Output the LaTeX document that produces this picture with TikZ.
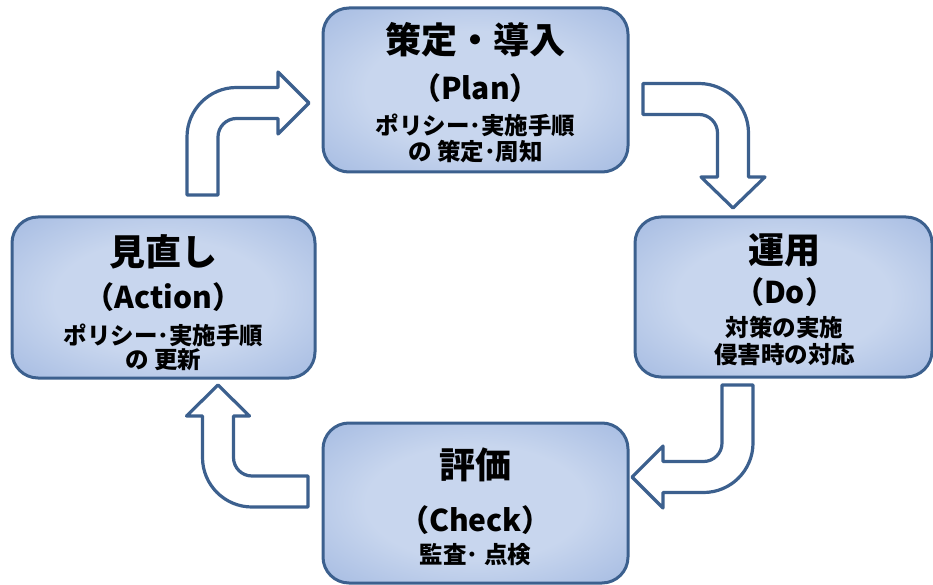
\documentclass[tikz,border=0pt]{standalone}
\usepackage{fontspec}
\newfontfamily\jp{Noto Sans CJK JP}
\definecolor{boxin}{RGB}{200,214,238}
\definecolor{boxout}{RGB}{138,166,216}
\definecolor{edge}{RGB}{60,96,142}
\pgfdeclareradialshading{boxshade}{\pgfpoint{0bp}{0bp}}{color(0bp)=(boxin); color(18bp)=(boxin); color(50bp)=(boxout); color(72bp)=(boxout)}
\tikzset{
  phase/.style={draw=edge, line width=3pt, rounded corners=26pt, shading=boxshade, inner sep=0pt},
  ttl/.style={font=\jp\bfseries\fontsize{36}{40}\selectfont, inner sep=0pt},
  eng/.style={font=\jp\bfseries\fontsize{30}{34}\selectfont, inner sep=0pt},
  subt/.style={font=\jp\bfseries\fontsize{23.5}{26}\selectfont, inner sep=0pt},
  flow/.style={draw=edge, line width=3.2pt, fill=white, line join=round}
}
\begin{document}
\begin{tikzpicture}[x=1pt,y=1pt]
\useasboundingbox (0,0) rectangle (933,-585);

% arrows
\draw[flow] (187,-195) -- (187,-137) arc[start angle=180, end angle=90, radius=49.5]
  -- (278,-87.5) -- (278,-72) -- (309,-103) -- (278,-134) -- (278,-118.5)
  -- (236.5,-118.5) arc[start angle=90, end angle=180, radius=18.5] -- (218,-195) -- cycle;
\draw[flow] (643,-83.5) -- (699,-83.5) arc[start angle=90, end angle=0, radius=49.5]
  -- (748.5,-177) -- (765,-177) -- (733,-208) -- (701,-177) -- (717.5,-177)
  -- (717.5,-133) arc[start angle=0, end angle=90, radius=18.5] -- (643,-114.5) -- cycle;
\draw[flow] (722,-385) -- (753,-385) -- (753,-443) arc[start angle=0, end angle=-90, radius=49.5]
  -- (663,-492.5) -- (663,-508) -- (632,-477) -- (663,-446) -- (663,-461.5)
  -- (703.5,-461.5) arc[start angle=-90, end angle=0, radius=18.5] -- cycle;
\draw[flow] (308,-476) -- (308,-507) -- (252,-507) arc[start angle=270, end angle=180, radius=49.5]
  -- (202.5,-416) -- (186.5,-416) -- (218,-385) -- (249.5,-416) -- (233.5,-416)
  -- (233.5,-457.5) arc[start angle=180, end angle=270, radius=18.5] -- cycle;

% boxes
\node[phase, minimum width=305pt, minimum height=164pt] (plan) at (475.5,-90) {};
\node[phase, minimum width=297pt, minimum height=160pt] (do) at (783.5,-297) {};
\node[phase, minimum width=303pt, minimum height=161pt] (act) at (163.5,-297.5) {};
\node[phase, minimum width=305pt, minimum height=160pt] (chk) at (475.5,-503) {};

% texts
\node[ttl] (planT) at (475.5,-40) {策定・導入};
\node[eng] (planE) at (475.5,-88) {（Plan）};
\node[subt] (planS1) at (475.5,-125) {ポリシー･実施手順};
\node[subt] (planS2) at (475.5,-152) {の 策定･周知};

\node[ttl] (doT) at (784.5,-250) {運用};
\node[eng] (doE) at (784.5,-292) {（Do）};
\node[subt] (doS1) at (784.5,-327) {対策の実施};
\node[subt] (doS2) at (784.5,-355) {侵害時の対応};

\node[ttl] (actT) at (163.5,-252) {見直し};
\node[eng] (actE) at (163.5,-297) {（Action）};
\node[subt] (actS1) at (163.5,-335) {ポリシー･実施手順};
\node[subt] (actS2) at (163.5,-360) {の 更新};

\node[ttl] (chkT) at (475.5,-465) {評価};
\node[eng] (chkE) at (475.5,-520) {（Check）};
\node[subt] (chkS) at (475.5,-555) {監査･ 点検};
\end{tikzpicture}
\end{document}
